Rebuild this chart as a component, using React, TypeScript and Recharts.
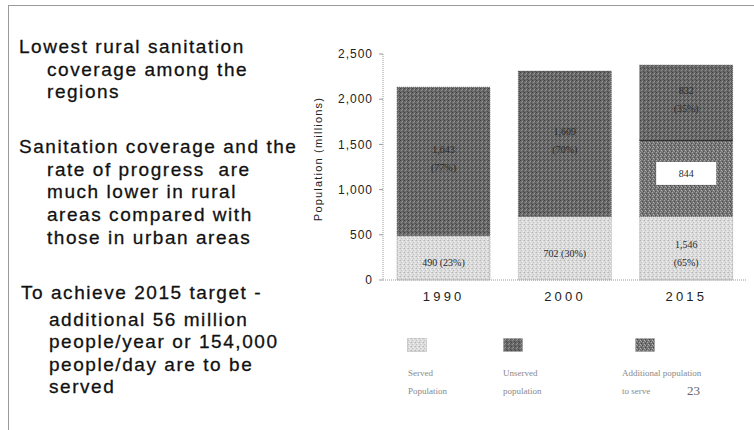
import React from 'react';
import { BarChart, Bar, XAxis, YAxis, LabelList } from 'recharts';

const years = ['1990', '2000', '2015'];
const servedValues = [490, 702, 702];
const additionalValues = [0, 0, 844];
const unservedValues = [1643, 1609, 832];
const servedLabels = [['490 (23%)'], ['702 (30%)'], ['1,546', '(65%)']];
const unservedLabels = [['1,643', '(77%)'], ['1,609', '(70%)'], ['832', '(35%)']];
const additionalLabels = ['', '', '844'];
const yTicks = [0, 500, 1000, 1500, 2000, 2500];
const yAxisTitle = 'Population (millions)';
const legendItems = [
  { lines: ['Served', 'Population'], pattern: 'pServed' },
  { lines: ['Unserved', 'population'], pattern: 'pUnserved' },
  { lines: ['Additional population', 'to serve'], pattern: 'pAdd' },
];
const pageNumber = '23';
const bullets = [
  { first: 'Lowest rural sanitation', rest: ['coverage among the', 'regions'] },
  { first: 'Sanitation coverage and the', rest: ['rate of progress  are', 'much lower in rural', 'areas compared with', 'those in urban areas'] },
  { first: 'To achieve 2015 target -', rest: ['additional 56 million', 'people/year or 154,000', 'people/day are to be', 'served'] },
];

const data = years.map((y, i) => ({
  year: y,
  served: servedValues[i],
  additional: additionalValues[i],
  unserved: unservedValues[i],
}));

const Patterns = () => (
  <>
    <pattern id="pServed" width="4" height="4" patternUnits="userSpaceOnUse">
      <rect width="4" height="4" fill="#dcdcdc" />
      <rect x="0" y="0" width="1" height="1" fill="#b4b4b4" />
      <rect x="2" y="1" width="1" height="1" fill="#f4f4f4" />
      <rect x="1" y="2" width="1" height="1" fill="#c2c2c2" />
      <rect x="3" y="3" width="1" height="1" fill="#efefef" />
      <rect x="3" y="0" width="1" height="1" fill="#c8c8c8" />
    </pattern>
    <pattern id="pUnserved" width="4" height="4" patternUnits="userSpaceOnUse">
      <rect width="4" height="4" fill="#6a6a6a" />
      <rect x="0" y="0" width="1" height="1" fill="#424242" />
      <rect x="2" y="1" width="1" height="1" fill="#959595" />
      <rect x="1" y="2" width="1" height="1" fill="#8a8a8a" />
      <rect x="3" y="3" width="1" height="1" fill="#4a4a4a" />
      <rect x="3" y="1" width="1" height="1" fill="#555555" />
    </pattern>
    <pattern id="pAdd" width="4" height="4" patternUnits="userSpaceOnUse">
      <rect width="4" height="4" fill="#747474" />
      <rect x="0" y="0" width="1" height="1" fill="#a8a8a8" />
      <rect x="2" y="1" width="1" height="1" fill="#484848" />
      <rect x="1" y="2" width="1" height="1" fill="#b2b2b2" />
      <rect x="3" y="3" width="1" height="1" fill="#4e4e4e" />
      <rect x="2" y="3" width="1" height="1" fill="#9a9a9a" />
    </pattern>
  </>
);

const labelFont = { fontFamily: '"Liberation Serif", "DejaVu Serif", serif', fontSize: 10, fill: '#2a2a2a' };

const makeLines = (source: string[][], dy: number) => (props: any) => {
  const { x, y, width, height, index } = props;
  const lines = source[index] || [];
  if (!height || height <= 0) return null;
  const cx = x + width / 2;
  const cy = y + height / 2 + dy;
  const gap = 18;
  const start = cy - ((lines.length - 1) * gap) / 2;
  return (
    <g>
      {lines.map((t, k) => (
        <text key={k} x={cx} y={start + k * gap} textAnchor="middle" dominantBaseline="central" style={labelFont}>
          {t}
        </text>
      ))}
    </g>
  );
};

const additionalContent = (props: any) => {
  const { x, y, width, height, index } = props;
  const t = additionalLabels[index];
  if (!t || !height || height <= 0) return null;
  const cx = x + width / 2;
  const cy = y + height / 2 - 5;
  return (
    <g>
      <rect x={cx - 30} y={cy - 11.5} width={60} height={23} fill="#ffffff" />
      <text x={cx} y={cy} textAnchor="middle" dominantBaseline="central" style={labelFont}>{t}</text>
    </g>
  );
};

const AdditionalShape = (props: any) => {
  const { x, y, width, height } = props;
  if (!height || height <= 0) return null;
  return (
    <g>
      <rect x={x} y={y} width={width} height={height} fill="url(#pAdd)" stroke="#666" strokeWidth={0.7} strokeDasharray="1 1" />
      <line x1={x} x2={x + width} y1={y} y2={y} stroke="#111" strokeWidth={1.5} />
    </g>
  );
};

const YTitle = () => (
  <text
    x={318}
    y={159}
    transform="rotate(-90 318 159)"
    textAnchor="middle"
    dominantBaseline="central"
    style={{ fontFamily: '"Liberation Sans", Arial, sans-serif', fontSize: 11, letterSpacing: 1.2, fill: '#222' }}
  >
    {yAxisTitle}
  </text>
);

const textFont = '"Liberation Sans", Arial, sans-serif';
const panelText: React.CSSProperties = {
  position: 'absolute',
  fontFamily: textFont,
  fontSize: 19,
  letterSpacing: 1.55,
  lineHeight: '22.6px',
  color: '#111',
  whiteSpace: 'pre',
  WebkitTextStroke: '0.3px #111',
};

export default function App() {
  return (
    <div style={{ position: 'absolute', left: 0, top: 0, width: 754, height: 430, overflow: 'hidden', background: '#fff' }}>
      <div style={{ position: 'absolute', left: 8, top: 5, width: 900, height: 600, border: '1px solid #9a9a9a' }} />
      {/* Left text panel */}
      <div style={{ ...panelText, left: 19, top: 36 }}>
        <div>{bullets[0].first}</div>
        {bullets[0].rest.map((l, i) => <div key={i} style={{ paddingLeft: 28 }}>{l}</div>)}
      </div>
      <div style={{ ...panelText, left: 19, top: 136, lineHeight: '22.7px' }}>
        <div>{bullets[1].first}</div>
        {bullets[1].rest.map((l, i) => <div key={i} style={{ paddingLeft: 28 }}>{l}</div>)}
      </div>
      <div style={{ ...panelText, left: 21, top: 282 }}>
        <div>{bullets[2].first}</div>
        <div style={{ paddingLeft: 28, marginTop: 4 }}>
          {bullets[2].rest.map((l, i) => <div key={i}>{l}</div>)}
        </div>
      </div>

      <div style={{ position: 'absolute', left: 0, top: 0 }}>
        <BarChart width={754} height={430} data={data} margin={{ top: 54, right: 7, bottom: 120, left: 313 }} barSize={93}>
          <defs>
            <Patterns />
          </defs>
          <XAxis
            dataKey="year"
            axisLine={{ stroke: '#9a9a9a', strokeDasharray: '1 1' }}
            tickLine={false}
            tickSize={6}
            tickMargin={6}
            height={30}
            tick={{ fontFamily: textFont, fontSize: 13, letterSpacing: 3.2, fill: '#222' }}
          />
          <YAxis
            width={70}
            domain={[0, 2500]}
            ticks={yTicks}
            interval={0}
            tickFormatter={(v: number) => v.toLocaleString('en-US')}
            axisLine={{ stroke: '#9a9a9a', strokeDasharray: '1 1' }}
            tickLine={{ stroke: '#9a9a9a' }}
            tickSize={4}
            tickMargin={6}
            tick={{ fontFamily: textFont, fontSize: 12, letterSpacing: 1, fill: '#222' }}
            label={{ content: () => <YTitle /> }}
          />
          <Bar dataKey="served" stackId="a" fill="url(#pServed)" stroke="#8a8a8a" strokeWidth={0.7} strokeDasharray="1 1" isAnimationActive={false}>
            <LabelList dataKey="served" content={makeLines(servedLabels, 5)} />
          </Bar>
          <Bar dataKey="additional" stackId="a" shape={<AdditionalShape />} isAnimationActive={false}>
            <LabelList dataKey="additional" content={additionalContent} />
          </Bar>
          <Bar dataKey="unserved" stackId="a" fill="url(#pUnserved)" stroke="#555" strokeWidth={0.7} strokeDasharray="1 1" isAnimationActive={false}>
            <LabelList dataKey="unserved" content={makeLines(unservedLabels, -3)} />
          </Bar>
        </BarChart>
      </div>

      {/* Legend */}
      {legendItems.map((it, i) => {
        const sx = [407, 503, 635][i];
        const tx = [408, 503, 622][i];
        return (
          <React.Fragment key={i}>
            <svg style={{ position: 'absolute', left: sx, top: 338 }} width={20} height={14}>
              <rect x={0.5} y={0.5} width={19} height={13} fill={`url(#${it.pattern})`} stroke="#888" strokeWidth={0.6} strokeDasharray="1 1" />
            </svg>
            <div style={{ position: 'absolute', left: tx, top: 364, fontFamily: '"Liberation Serif", serif', fontSize: 9, lineHeight: '18px', color: '#888', whiteSpace: 'pre' }}>
              {it.lines.map((l, k) => <div key={k}>{l}</div>)}
            </div>
          </React.Fragment>
        );
      })}
      <div style={{ position: 'absolute', left: 687, top: 383, fontFamily: '"Liberation Serif", serif', fontSize: 13, color: '#666' }}>{pageNumber}</div>
    </div>
  );
}
